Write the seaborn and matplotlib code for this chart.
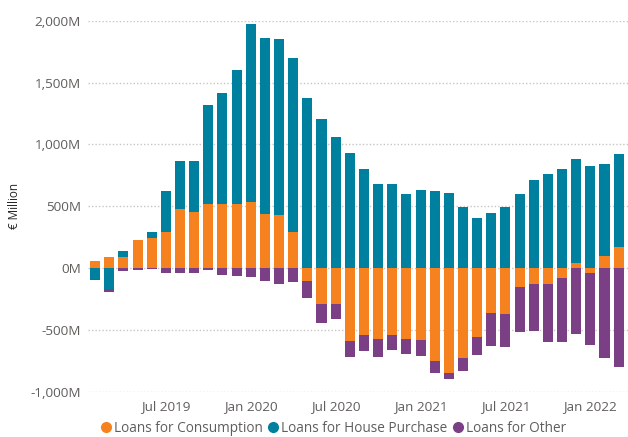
import matplotlib
matplotlib.use("Agg")
import matplotlib.pyplot as plt
import matplotlib.ticker as mticker
from matplotlib.lines import Line2D
import numpy as np
import pandas as pd
import seaborn as sns

months = pd.date_range("2019-02-01", "2022-03-01", freq="MS")
consumption = [55, 90, 92, 230, 246, 294, 481, 454, 516, 519, 514, 532, 433, 425, 289,
               -108, -292, -292, -594, -540, -570, -540, -572, -583, -751, -845, -729,
               -556, -367, -373, -157, -130, -130, -81, 38, -43, 100, 173]
house = [-85, -170, 49, 0, 46, 332, 381, 413, 802, 900, 1086, 1440, 1426, 1430, 1408,
         1378, 1203, 1059, 932, 802, 681, 676, 600, 627, 619, 608, 497,
         403, 446, 495, 597, 713, 759, 802, 843, 827, 743, 746]
other = [-15, -20, -24, -16, -10, -40, -43, -43, -19, -54, -62, -76, -105, -130, -116,
         -135, -154, -124, -124, -127, -149, -124, -124, -130, -95, -54, -103,
         -146, -262, -265, -359, -381, -467, -519, -535, -581, -727, -800]
series_names = ["Loans for Consumption", "Loans for House Purchase", "Loans for Other"]
colors = ["#F5821F", "#00809F", "#7B3F86"]
tick_labels = ["Jul 2019", "Jan 2020", "Jul 2020", "Jan 2021", "Jul 2021", "Jan 2022"]
tick_months = ["2019-07-01", "2020-01-01", "2020-07-01", "2021-01-01", "2021-07-01", "2022-01-01"]

sns.set_theme(style="white")
plt.rcParams["font.family"] = ["Open Sans", "DejaVu Sans"]

fig = plt.figure(figsize=(6.28, 4.37), dpi=100)
ax = fig.add_axes([88 / 628, 1 - 391.7 / 437, 540 / 628, (391.7 - 20.7) / 437])

labels = [m.strftime("%Y-%m") for m in months]
pos_acc = np.zeros(len(months))
neg_acc = np.zeros(len(months))
for name, vals, col in zip(series_names, [consumption, house, other], colors):
    v = np.array(vals, dtype=float)
    bottom = np.where(v >= 0, pos_acc, neg_acc)
    df = pd.DataFrame({"month": labels, "value": v})
    sns.barplot(data=df, x="month", y="value", color=col, saturation=1,
                width=0.71, bottom=bottom, ax=ax, linewidth=0, errorbar=None)
    pos_acc = pos_acc + np.where(v >= 0, v, 0)
    neg_acc = neg_acc + np.where(v < 0, v, 0)

ax.set_xlim(-0.5, 37.66)
ax.set_ylim(-1000, 2000)
ax.yaxis.set_major_locator(mticker.MultipleLocator(500))
ax.yaxis.set_major_formatter(mticker.FuncFormatter(lambda x, p: f"{x:,.0f}M"))
tick_pos = [labels.index(pd.Timestamp(t).strftime("%Y-%m")) for t in tick_months]
ax.set_xticks(tick_pos)
ax.set_xticklabels(tick_labels)
ax.tick_params(axis="both", length=0, labelsize=9.7, colors="#605E5C")
ax.tick_params(axis="x", pad=6)
ax.tick_params(axis="y", pad=5)
ax.grid(axis="y", color="#C8C6C4", linestyle=(0, (1, 1.5)), linewidth=1)
ax.set_axisbelow(True)
for s in ax.spines.values():
    s.set_visible(False)
ax.set_xlabel("")
ax.set_ylabel("€ Million", fontsize=8.5, color="#252423")
ax.yaxis.set_label_coords((21 - 88) / 540, 0.5)

handles = [Line2D([0], [0], marker="o", linestyle="", markersize=7,
                  markerfacecolor=c, markeredgecolor=c) for c in colors]
fig.legend(handles, series_names, loc="center", bbox_to_anchor=(334 / 628, 1 - 428 / 437),
           ncol=3, frameon=False, fontsize=9.8, handlelength=0.6, handletextpad=0.25,
           columnspacing=0.5, labelcolor="#605E5C")

fig.savefig("out.png", dpi=100)
